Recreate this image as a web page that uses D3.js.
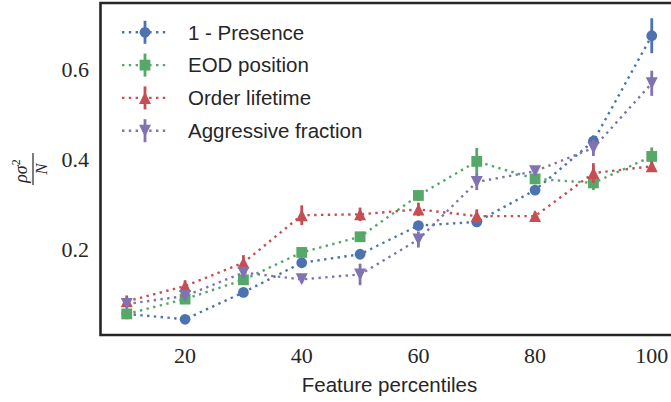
<!DOCTYPE html>
<html>
<head>
<meta charset="utf-8">
<script src="https://cdn.jsdelivr.net/npm/d3@7"></script>
<style>
  body { margin: 0; background: #fff; }
  svg { display: block; }
</style>
</head>
<body>
<div id="chart"></div>
<script>
// values
const percentiles = [10, 20, 30, 40, 50, 60, 70, 80, 90, 100];

const presence = [0.056, 0.044, 0.104, 0.170, 0.189, 0.253, 0.261, 0.332, 0.441, 0.676];
const presenceErr = [0.006, 0.006, 0.008, 0.008, 0.006, 0.006, 0.006, 0.008, 0.013, 0.039];

const eodPosition = [0.056, 0.089, 0.132, 0.193, 0.228, 0.320, 0.396, 0.357, 0.348, 0.407];
const eodErr = [0.008, 0.008, 0.008, 0.011, 0.008, 0.012, 0.030, 0.012, 0.016, 0.020];

const orderLifetime = [0.084, 0.118, 0.170, 0.276, 0.278, 0.289, 0.274, 0.274, 0.370, 0.385];
const orderErr = [0.013, 0.013, 0.017, 0.022, 0.015, 0.015, 0.015, 0.010, 0.022, 0.010];

const aggressive = [0.078, 0.096, 0.148, 0.133, 0.144, 0.222, 0.350, 0.374, 0.426, 0.570];
const aggressiveErr = [0.008, 0.008, 0.011, 0.008, 0.024, 0.018, 0.018, 0.008, 0.018, 0.028];

const seriesNames = ["1 - Presence", "EOD position", "Order lifetime", "Aggressive fraction"];
const xTicks = [20, 40, 60, 80, 100];
const yTicks = [0.2, 0.4, 0.6];

const series = [
  { name: seriesNames[0], values: presence, errs: presenceErr, color: "#4C72B0", marker: "circle" },
  { name: seriesNames[1], values: eodPosition, errs: eodErr, color: "#55A868", marker: "square" },
  { name: seriesNames[2], values: orderLifetime, errs: orderErr, color: "#C44E52", marker: "up" },
  { name: seriesNames[3], values: aggressive, errs: aggressiveErr, color: "#8172B2", marker: "down" },
];

const width = 671, height = 402;
const plot = { left: 100.5, right: 678, top: 3, bottom: 335 };

const svg = d3.select("#chart").append("svg")
  .attr("width", width)
  .attr("height", height);

const x = d3.scaleLinear().domain([5.5, 104.5]).range([plot.left, plot.right]);
const y = d3.scaleLinear().domain([0.009, 0.749]).range([plot.bottom, plot.top]);

const serif = "'Liberation Serif', 'DejaVu Serif', serif";
const sans = "'Liberation Sans', Arial, sans-serif";

// marker paths, centred on 0,0
function markerPath(type) {
  const s = 5.4;
  if (type === "circle") return d3.symbol(d3.symbolCircle, Math.PI * 5.4 * 5.4)();
  if (type === "square") return `M${-s},${-s}H${s}V${s}H${-s}Z`;
  if (type === "up") return `M0,${-6}L${-6},${6}L${6},${6}Z`;
  return `M0,${6}L${-6},${-6}L${6},${-6}Z`;
}

const dotted = "2.4,4.4";

// data layer
const dataG = svg.append("g");
const line = d3.line().x((d) => x(d[0])).y((d) => y(d[1]));

series.forEach((s) => {
  const pts = percentiles.map((p, i) => [p, s.values[i], s.errs[i]]);
  const g = dataG.append("g");

  g.append("path")
    .datum(pts)
    .attr("d", line)
    .attr("fill", "none")
    .attr("stroke", s.color)
    .attr("stroke-width", 2.4)
    .attr("stroke-dasharray", dotted);

  g.selectAll(".err")
    .data(pts)
    .enter()
    .append("line")
    .attr("x1", (d) => x(d[0]))
    .attr("x2", (d) => x(d[0]))
    .attr("y1", (d) => y(d[1] - d[2]))
    .attr("y2", (d) => y(d[1] + d[2]))
    .attr("stroke", s.color)
    .attr("stroke-width", 2.8);

  g.selectAll(".mk")
    .data(pts)
    .enter()
    .append("path")
    .attr("d", markerPath(s.marker))
    .attr("transform", (d) => `translate(${x(d[0])},${y(d[1])})`)
    .attr("fill", s.color);
});

// frame: left, bottom and top spines (right one falls outside the picture)
const frame = svg.append("g")
  .attr("stroke", "#262626")
  .attr("stroke-width", 2.6)
  .attr("fill", "none");
frame.append("path")
  .attr("d", `M${plot.right},${plot.top}H${plot.left}V${plot.bottom}H${plot.right}`);

// tick labels
svg.append("g")
  .selectAll("text")
  .data(xTicks)
  .enter()
  .append("text")
  .attr("x", (d) => x(d))
  .attr("y", 363)
  .attr("text-anchor", "middle")
  .style("font-family", serif)
  .style("font-size", "22px")
  .style("fill", "#262626")
  .text((d) => d);

svg.append("g")
  .selectAll("text")
  .data(yTicks)
  .enter()
  .append("text")
  .attr("x", 89)
  .attr("y", (d) => y(d) + 7.5)
  .attr("text-anchor", "end")
  .style("font-family", serif)
  .style("font-size", "22px")
  .style("fill", "#262626")
  .text((d) => d.toFixed(1));

// x axis title
svg.append("text")
  .attr("x", 389.5)
  .attr("y", 392)
  .attr("text-anchor", "middle")
  .style("font-family", sans)
  .style("font-size", "20.5px")
  .style("fill", "#262626")
  .text("Feature percentiles");

// y axis title: rho sigma^2 over N, rotated
const yl = svg.append("g")
  .attr("transform", "translate(33,169) rotate(-90)")
  .style("fill", "#262626");
yl.append("line")
  .attr("x1", -16).attr("x2", 16)
  .attr("y1", 0).attr("y2", 0)
  .attr("stroke", "#262626")
  .attr("stroke-width", 1.2);
const num = yl.append("text")
  .attr("x", -2)
  .attr("y", -6)
  .attr("text-anchor", "middle")
  .style("font-family", serif)
  .style("font-style", "italic")
  .style("font-size", "18px");
num.append("tspan").text("ρσ");
num.append("tspan")
  .attr("dy", -7)
  .style("font-size", "12px")
  .style("font-style", "normal")
  .text("2");
yl.append("text")
  .attr("x", 0)
  .attr("y", 14)
  .attr("text-anchor", "middle")
  .style("font-family", serif)
  .style("font-style", "italic")
  .style("font-size", "17px")
  .text("N");

// legend
const legend = svg.append("g");
const rows = legend.selectAll("g")
  .data(series)
  .enter()
  .append("g")
  .attr("transform", (d, i) => `translate(0,${32.3 + i * 32.8})`);

rows.append("line")
  .attr("x1", 122).attr("x2", 168)
  .attr("y1", 0).attr("y2", 0)
  .attr("stroke", (d) => d.color)
  .attr("stroke-width", 2.4)
  .attr("stroke-dasharray", dotted);
rows.append("line")
  .attr("x1", 145).attr("x2", 145)
  .attr("y1", -11.5).attr("y2", 11.5)
  .attr("stroke", (d) => d.color)
  .attr("stroke-width", 2.8);
rows.append("path")
  .attr("d", (d) => markerPath(d.marker))
  .attr("transform", "translate(145,0)")
  .attr("fill", (d) => d.color);
rows.append("text")
  .attr("x", 188)
  .attr("y", 7.3)
  .style("font-family", sans)
  .style("font-size", "20.5px")
  .style("fill", "#262626")
  .text((d) => d.name);
</script>
</body>
</html>
